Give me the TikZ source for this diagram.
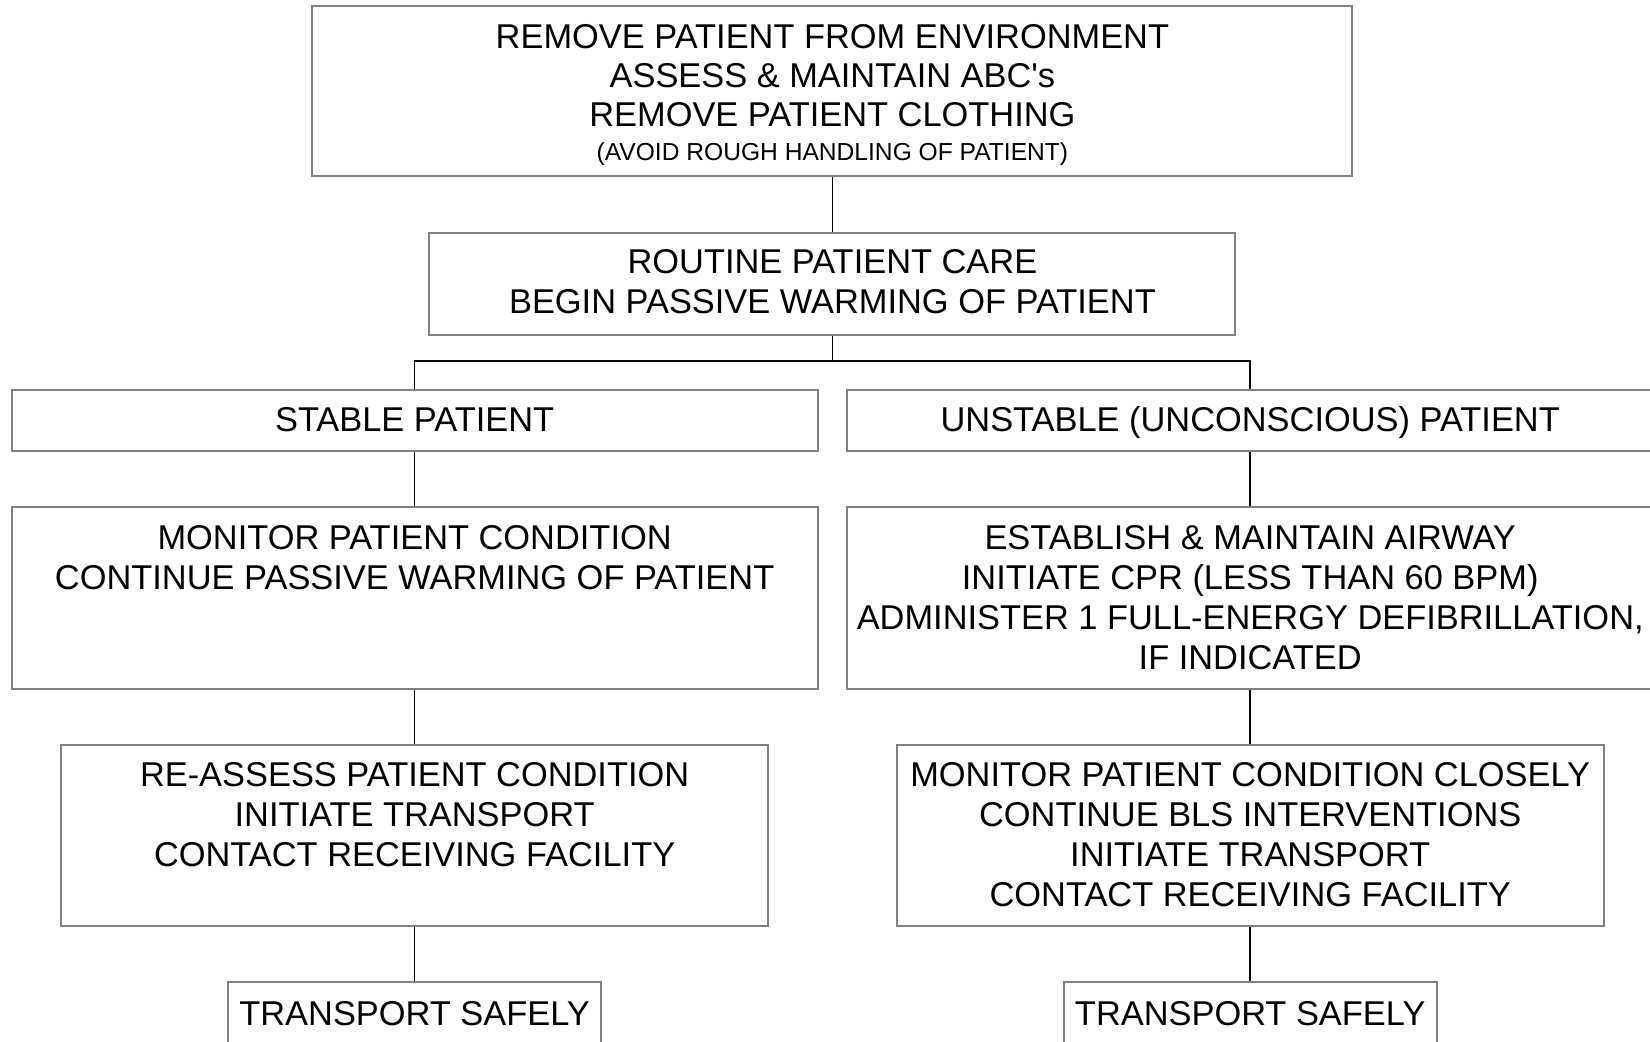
\documentclass[tikz,border=0pt]{standalone}
\usepackage{fontspec}
\setmainfont{Liberation Sans}[Ligatures=TeXOff]
\begin{document}
\begin{tikzpicture}[x=0.5pt,y=-0.5pt,
  box/.style={draw=black!50, line width=1pt, inner sep=0pt, rectangle},
  txt/.style={align=center, inner sep=0pt, anchor=north,
              font=\fontsize{17.2}{20}\selectfont},
  link/.style={draw=black, line width=0.8pt}]
\useasboundingbox (0,0) rectangle (1650,1042);
\fill[white] (0,0) rectangle (1650,1042);
\clip (0,0) rectangle (1650,1042);

% boxes
\node[box, minimum width=520pt, minimum height=84.7pt] (b1) at (832.4,91) {};
\node[box, minimum width=403pt, minimum height=51pt] (b2) at (832.4,283.6) {};
\node[box, minimum width=403pt, minimum height=30.5pt] (b3) at (414.6,421) {};
\node[box, minimum width=403pt, minimum height=30.5pt] (b4) at (1250.2,421) {};
\node[box, minimum width=403pt, minimum height=91pt] (b5) at (414.6,598.2) {};
\node[box, minimum width=403pt, minimum height=91pt] (b6) at (1250.2,598.2) {};
\node[box, minimum width=353.5pt, minimum height=90.5pt] (b7) at (414.6,835.5) {};
\node[box, minimum width=353.5pt, minimum height=90.5pt] (b8) at (1250.2,835.5) {};
\node[box, minimum width=186.3pt, minimum height=35pt] (b9) at (414.6,1017) {};
\node[box, minimum width=186.3pt, minimum height=35pt] (b10) at (1250.2,1017) {};

% box texts, set from the top of each box
\node[txt, font=\fontsize{17.2}{19.5}\selectfont] (t1) at ([yshift=-7.5pt]b1.north)
  {\rule{0pt}{14pt}REMOVE PATIENT FROM ENVIRONMENT\\
   ASSESS \& MAINTAIN ABC's\\
   REMOVE PATIENT CLOTHING\\[-2.8pt]
   {\fontsize{12.3}{14}\selectfont (AVOID ROUGH HANDLING OF PATIENT)}};
\node[txt] (t2) at ([yshift=-7pt]b2.north)
  {\rule{0pt}{14pt}ROUTINE PATIENT CARE\\ BEGIN PASSIVE WARMING OF PATIENT};
\node[txt] (t3) at ([yshift=-7pt]b3.north) {\rule{0pt}{14pt}STABLE PATIENT};
\node[txt] (t4) at ([yshift=-7pt]b4.north) {\rule{0pt}{14pt}UNSTABLE (UNCONSCIOUS) PATIENT};
\node[txt] (t5) at ([yshift=-7.5pt]b5.north)
  {\rule{0pt}{14pt}MONITOR PATIENT CONDITION\\ CONTINUE PASSIVE WARMING OF PATIENT};
\node[txt] (t6) at ([yshift=-7.5pt]b6.north)
  {\rule{0pt}{14pt}ESTABLISH \& MAINTAIN AIRWAY\\
   INITIATE CPR (LESS THAN 60 BPM)\\
   ADMINISTER 1 FULL-ENERGY DEFIBRILLATION,\\
   IF INDICATED};
\node[txt] (t7) at ([yshift=-7pt]b7.north)
  {\rule{0pt}{14pt}RE-ASSESS PATIENT CONDITION\\
   INITIATE TRANSPORT\\
   CONTACT RECEIVING FACILITY};
\node[txt] (t8) at ([yshift=-7pt]b8.north)
  {\rule{0pt}{14pt}MONITOR PATIENT CONDITION CLOSELY\\
   CONTINUE BLS INTERVENTIONS\\
   INITIATE TRANSPORT\\
   CONTACT RECEIVING FACILITY};
\node[txt] (t9) at ([yshift=-7.8pt]b9.north) {\rule{0pt}{14pt}TRANSPORT SAFELY};
\node[txt] (t10) at ([yshift=-7.8pt]b10.north) {\rule{0pt}{14pt}TRANSPORT SAFELY};

% connectors
\coordinate (split) at (832.4,361);
\draw[link] (b1.south) -- (b2.north);
\draw[link] (b2.south) -- (split);
\draw[link] (b3.north) |- (split) -| (b4.north);
\draw[link] (b3.south) -- (b5.north);
\draw[link] (b4.south) -- (b6.north);
\draw[link] (b5.south) -- (b7.north);
\draw[link] (b6.south) -- (b8.north);
\draw[link] (b7.south) -- (b9.north);
\draw[link] (b8.south) -- (b10.north);
\end{tikzpicture}
\end{document}
